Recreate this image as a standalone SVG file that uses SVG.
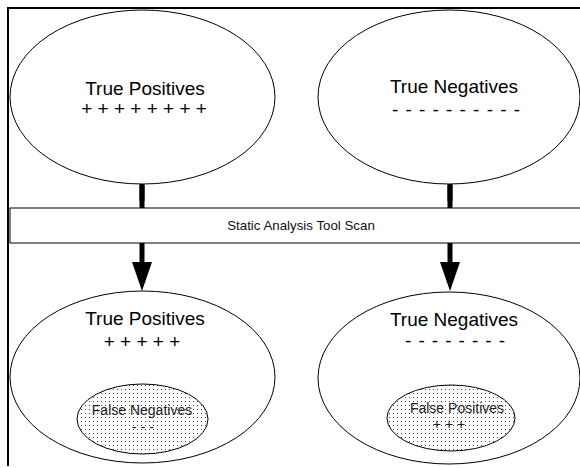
<svg xmlns="http://www.w3.org/2000/svg" width="580" height="468" viewBox="0 0 580 468">
  <style>
    .big { fill: #fff; stroke: #000; stroke-width: 1; }
    .inner { fill: url(#dots); stroke: #000; stroke-width: 1; }
    .t18 { font-family: "Liberation Sans", Arial, sans-serif; font-size: 19px; fill: #000; text-anchor: middle; }
    .t14 { font-family: "Liberation Sans", Arial, sans-serif; font-size: 14px; fill: #222; text-anchor: middle; }
    .t12 { font-family: "Liberation Sans", Arial, sans-serif; font-size: 13.3px; fill: #111; text-anchor: middle; }
    .conn { stroke: #000; stroke-width: 5; fill: none; stroke-linecap: round; }
  </style>
  <defs>
    <pattern id="dots" width="4" height="4" patternUnits="userSpaceOnUse">
      <rect width="4" height="4" fill="#fff"/>
      <rect x="1" y="1" width="1" height="1" fill="#444"/>
    </pattern>
    <marker id="arrow" markerUnits="userSpaceOnUse" viewBox="0 0 29 20" refX="0" refY="10" markerWidth="29" markerHeight="20" orient="auto">
      <path d="M0,0 L29,10 L0,20 z" fill="#000"/>
    </marker>
  </defs>
  <rect width="580" height="468" fill="#fff"/>
  <path d="M8,466 V8 H580" fill="none" stroke="#000" stroke-width="2"/>

  <g id="connectors">
    <line class="conn" x1="142" y1="185" x2="142" y2="262" marker-end="url(#arrow)" style="stroke-linecap:butt"/>
    <line class="conn" x1="142" y1="185" x2="142" y2="200"/>
    <line class="conn" x1="450" y1="185" x2="450" y2="262" marker-end="url(#arrow)" style="stroke-linecap:butt"/>
    <line class="conn" x1="450" y1="185" x2="450" y2="200"/>
  </g>

  <g id="tp-before">
    <ellipse class="big" cx="142.5" cy="97" rx="132.5" ry="87"/>
    <text class="t18" x="145" y="95">True Positives</text>
    <text class="t18" x="144" y="115">+ + + + + + + +</text>
  </g>

  <g id="tn-before">
    <ellipse class="big" cx="449" cy="97" rx="131" ry="87"/>
    <text class="t18" x="454" y="93">True Negatives</text>
    <text class="t18" x="456" y="116" textLength="128" lengthAdjust="spacing">- - - - - - - - - -</text>
  </g>

  <g id="scan">
    <rect x="10" y="208" width="575" height="35" fill="#fff" stroke="#000" stroke-width="1"/>
    <text class="t12" x="301" y="230">Static Analysis Tool Scan</text>
  </g>

  <g id="tp-after">
    <ellipse class="big" cx="142.5" cy="377" rx="132.5" ry="86"/>
    <text class="t18" x="145" y="325">True Positives</text>
    <text class="t18" x="142" y="348">+ + + + +</text>
    <g id="false-negatives">
      <ellipse class="inner" cx="142.5" cy="419" rx="65.5" ry="35"/>
      <text class="t14" x="142" y="415">False Negatives</text>
      <text class="t14" x="143" y="432">- - -</text>
    </g>
  </g>

  <g id="tn-after">
    <ellipse class="big" cx="449" cy="378" rx="131" ry="86"/>
    <text class="t18" x="454" y="326">True Negatives</text>
    <text class="t18" x="455" y="347" textLength="100" lengthAdjust="spacing">- - - - - - - -</text>
    <g id="false-positives">
      <ellipse class="inner" cx="451" cy="418" rx="64" ry="33"/>
      <text class="t14" x="457" y="413">False Positives</text>
      <text class="t14" x="449" y="429">+ + +</text>
    </g>
  </g>
</svg>
